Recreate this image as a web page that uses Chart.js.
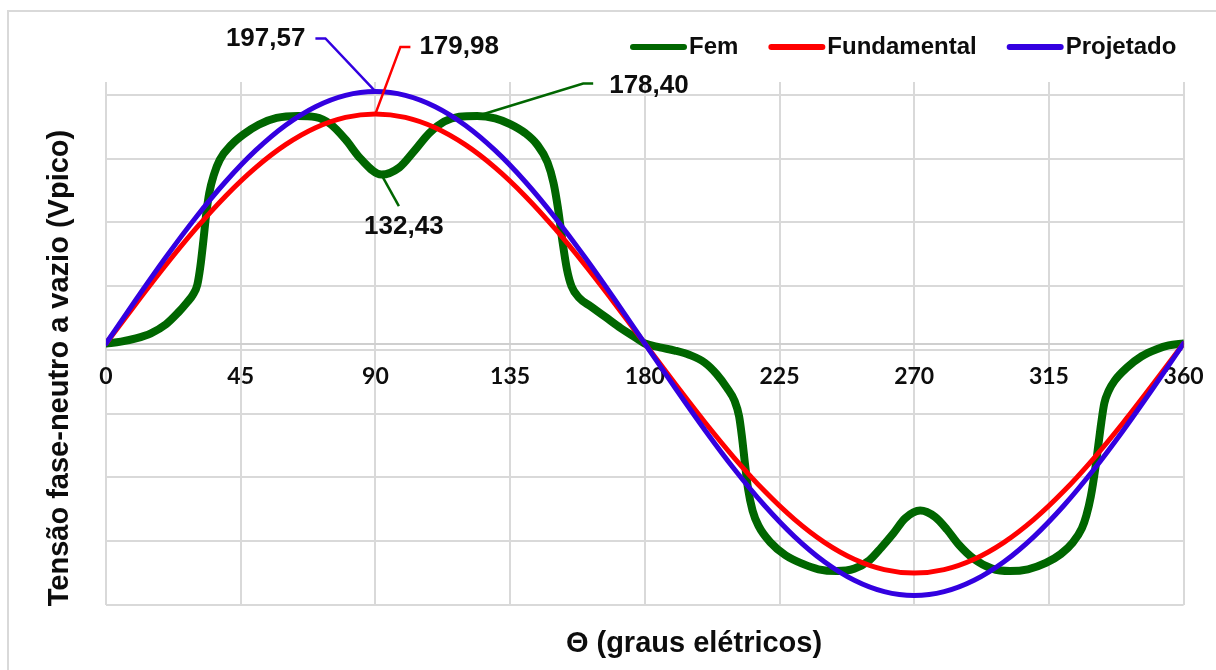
<!DOCTYPE html>
<html lang="pt">
<head>
<meta charset="utf-8">
<title>Tensão fase-neutro a vazio</title>
<script src="https://cdn.jsdelivr.net/npm/chart.js@4.4.1/dist/chart.umd.min.js"></script>
<style>
  html, body { margin: 0; padding: 0; background: #fff; }
  #wrap { position: relative; width: 1216px; height: 670px; overflow: hidden; background: #fff; }
  #frame { position: absolute; left: 7px; top: 10px; width: 1400px; height: 900px;
           border-left: 2px solid #d9d9d9; border-top: 2px solid #d9d9d9; box-sizing: border-box; }
  #chart { position: absolute; left: 0; top: 0; }
</style>
</head>
<body>
<div id="wrap">
  <div id="frame"></div>
  <canvas id="chart" width="1216" height="670"></canvas>
</div>
<script>
// Electrical angle ticks (degrees) and horizontal grid levels (Vpico)
const angleTicks = [0, 45, 90, 135, 180, 225, 270, 315, 360];
const levelTicks = [-205, -155, -105, -55, -5, 45, 95, 145, 195];
const levelMin = -205;
const levelMax = 205;

// Fundamental and designed waveforms, sampled every 10 degrees
const sineTheta = [0, 10, 20, 30, 40, 50, 60, 70, 80, 90, 100, 110, 120, 130, 140, 150, 160, 170, 180,
                   190, 200, 210, 220, 230, 240, 250, 260, 270, 280, 290, 300, 310, 320, 330, 340, 350, 360];
const fundamentalValues = [0, 31.25, 61.56, 89.99, 115.69, 137.87, 155.87, 169.13, 177.25, 179.98,
                           177.25, 169.13, 155.87, 137.87, 115.69, 89.99, 61.56, 31.25, 0,
                           -31.25, -61.56, -89.99, -115.69, -137.87, -155.87, -169.13, -177.25, -179.98,
                           -177.25, -169.13, -155.87, -137.87, -115.69, -89.99, -61.56, -31.25, 0];
const projetadoValues = [0, 34.31, 67.57, 98.79, 127.0, 151.35, 171.1, 185.66, 194.57, 197.57,
                         194.57, 185.66, 171.1, 151.35, 127.0, 98.79, 67.57, 34.31, 0,
                         -34.31, -67.57, -98.79, -127.0, -151.35, -171.1, -185.66, -194.57, -197.57,
                         -194.57, -185.66, -171.1, -151.35, -127.0, -98.79, -67.57, -34.31, 0];

// No-load EMF waveform (denser sampling around the steep edges)
const femTheta = [0, 5, 10, 15, 20, 24, 27, 29, 30.5, 31.5, 32.5, 33.5, 34.5, 36, 38, 42, 46, 51, 57, 64,
                  70, 75, 80, 85, 92, 98, 103, 108, 113, 118, 124, 130, 135, 140, 144, 147.5, 149.5,
                  151, 152.5, 154, 155.5, 158, 162, 167, 172, 176, 180,
                  185, 190, 195, 200, 204, 207.5, 210, 211.5, 212.5, 213.5, 214.5, 216, 218, 222, 227,
                  233, 238, 244, 250, 255, 259, 263, 267, 272, 277, 281, 285, 290, 296, 302, 308, 314,
                  319, 323, 326, 327.5, 329, 330.5, 331.5, 332.5, 333.5, 335, 337, 341, 346, 351, 355, 360];
const femValues = [0, 1.5, 4, 8, 15, 24, 32, 38, 46, 60, 80, 102, 118, 132, 144, 156, 164, 171.5, 176.8, 178.4,
                   177.5, 172, 160, 145, 132.43, 138, 151, 165, 174, 177.8, 178.4, 176.5, 172, 165, 156, 142, 126,
                   106, 80, 58, 45, 36, 29, 20.5, 12, 6, 0,
                   -3, -5.5, -9, -15, -24, -35, -45, -57, -74, -95, -114, -131, -143, -156, -166,
                   -173, -177, -178.4, -176.5, -170, -160, -149, -137, -131, -136, -146, -158, -169, -176.5, -178.4, -177, -172,
                   -165, -156, -145, -135, -120, -98, -80, -62, -47, -37, -29, -19, -10, -4.5, -1.5, 0];

const seriesNames = ['Fem', 'Fundamental', 'Projetado'];
const seriesColors = ['#006600', '#ff0000', '#3300e0'];
const seriesWidths = [8, 5, 5];

// Value callouts: which series, at which angle, with which value
const calloutSeries = [2, 1, 0, 0];
const calloutTheta = [90, 90, 124, 92];
const calloutValues = [197.57, 179.98, 178.40, 132.43];

// Leader-line elbows and text offsets, in pixels from the marked point
const calloutLayout = [
  { path: [[-50, -53], [-60, -53]], text: [-70, -52.5], align: 'right' },
  { path: [[25, -67], [35, -67]], text: [44, -67.5], align: 'left' },
  { path: [[106, -32.5], [116, -32.5]], text: [132, -30.5], align: 'left' },
  { path: [[17.5, 31.5]], text: [22.5, 52.5], align: 'center' }
];

const toPoints = (xs, ys) => xs.map((t, i) => ({ x: t, y: ys[i] }));
const fmt = v => v.toFixed(2).replace('.', ',');

const TEXT = '#0d0d0d';
const GRID = '#d9d9d9';
const ARIAL = '"Liberation Sans", Arial, sans-serif';

const overlay = {
  id: 'overlay',
  afterDatasetsDraw(chart) {
    const { ctx } = chart;
    const sx = chart.scales.x, sy = chart.scales.y;
    ctx.save();
    // callouts with leader lines
    calloutValues.forEach((v, i) => {
      const ax = sx.getPixelForValue(calloutTheta[i]);
      const ay = sy.getPixelForValue(v);
      const lay = calloutLayout[i];
      ctx.strokeStyle = seriesColors[calloutSeries[i]];
      ctx.lineWidth = 2.5;
      ctx.lineJoin = 'miter';
      ctx.beginPath();
      ctx.moveTo(ax, ay);
      lay.path.forEach(([dx, dy]) => ctx.lineTo(ax + dx, ay + dy));
      ctx.stroke();
      ctx.fillStyle = TEXT;
      ctx.font = 'bold 26px ' + ARIAL;
      ctx.textAlign = lay.align;
      ctx.textBaseline = 'middle';
      ctx.fillText(fmt(v), ax + lay.text[0], ay + lay.text[1]);
    });
    ctx.restore();
  },
  afterDraw(chart) {
    const { ctx } = chart;
    ctx.save();
    // legend
    ctx.font = 'bold 24px ' + ARIAL;
    ctx.textBaseline = 'middle';
    ctx.textAlign = 'left';
    let lx = 630;
    const ly = 47;
    seriesNames.forEach((name, i) => {
      ctx.strokeStyle = seriesColors[i];
      ctx.lineWidth = 6;
      ctx.lineCap = 'round';
      ctx.beginPath();
      ctx.moveTo(lx + 3, ly);
      ctx.lineTo(lx + 54, ly);
      ctx.stroke();
      ctx.fillStyle = TEXT;
      ctx.fillText(name, lx + 59, ly);
      lx += 59 + ctx.measureText(name).width + 30;
    });
    // axis titles
    ctx.font = 'bold 29px ' + ARIAL;
    ctx.fillStyle = TEXT;
    ctx.textAlign = 'center';
    ctx.fillText('\u0398 (graus elétricos)', 694, 644);
    ctx.translate(60, 368);
    ctx.rotate(-Math.PI / 2);
    ctx.fillText('Tensão fase-neutro a vazio (Vpico)', 0, 0);
    ctx.restore();
  }
};

const lineStyle = i => ({
  label: seriesNames[i],
  borderColor: seriesColors[i],
  backgroundColor: seriesColors[i],
  borderWidth: seriesWidths[i],
  pointRadius: 0,
  pointHoverRadius: 0,
  fill: false,
  cubicInterpolationMode: 'monotone',
  borderCapStyle: 'round',
  borderJoinStyle: 'round',
  order: 3 - i
});

new Chart(document.getElementById('chart'), {
  type: 'line',
  data: {
    datasets: [
      Object.assign({ data: toPoints(femTheta, femValues) }, lineStyle(0)),
      Object.assign({ data: toPoints(sineTheta, fundamentalValues) }, lineStyle(1)),
      Object.assign({ data: toPoints(sineTheta, projetadoValues) }, lineStyle(2))
    ]
  },
  options: {
    responsive: false,
    animation: false,
    events: [],
    layout: { padding: { left: 106, right: 32.4, top: 82, bottom: 65 } },
    plugins: {
      legend: { display: false },
      title: { display: false },
      tooltip: { enabled: false }
    },
    scales: {
      x: {
        type: 'linear',
        position: { y: 0 },
        min: 0,
        max: 360,
        afterBuildTicks: s => { s.ticks = angleTicks.map(v => ({ value: v })); },
        // end labels may overhang the plot area; keep the plot area fixed
        afterFit: s => { s.paddingLeft = 0; s.paddingRight = 0; },
        grid: { color: GRID, lineWidth: 2, drawTicks: false },
        border: { display: true, color: '#cfcfcf', width: 2 },
        ticks: {
          autoSkip: false,
          maxRotation: 0,
          padding: 19,
          color: TEXT,
          font: { family: 'Lato, "Open Sans", sans-serif', weight: 'bold', size: 23 }
        }
      },
      y: {
        type: 'linear',
        position: 'left',
        min: levelMin,
        max: levelMax,
        afterBuildTicks: s => { s.ticks = levelTicks.map(v => ({ value: v })); },
        grid: { color: GRID, lineWidth: 2, drawTicks: false },
        border: { display: false },
        ticks: { display: false }
      }
    }
  },
  plugins: [overlay]
});
</script>
</body>
</html>
